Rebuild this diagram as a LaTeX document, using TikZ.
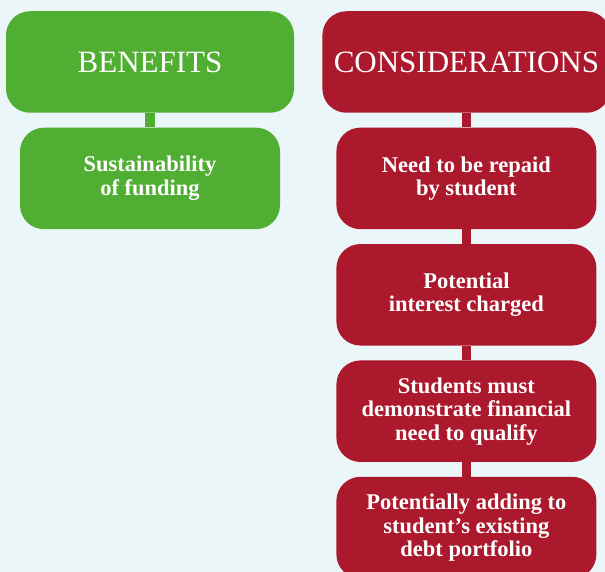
\documentclass[tikz,border=0pt]{standalone}
\usepackage{fontspec}
\setmainfont{Liberation Serif}
\usetikzlibrary{positioning}
\definecolor{benefitgreen}{RGB}{80,174,51}
\definecolor{considerred}{RGB}{172,24,44}
\definecolor{paleback}{RGB}{234,246,247}

\begin{document}
\begin{tikzpicture}
    % Styles
        \tikzstyle{heading} = [rectangle, rounded corners=24pt, text=white, text centered, minimum height=101.5pt, minimum width=288pt, font=\fontsize{31}{36}\selectfont]
        \tikzstyle{block} = [rectangle, rounded corners=24pt, text=white, align=center, minimum height=101.5pt, minimum width=260pt, font=\bfseries\fontsize{22.5}{23.5}\selectfont]
        \tikzstyle{line} = [draw, line width=9.5pt]
    % background
        \fill [paleback] (0,0) rectangle (605pt,-572pt);
        \useasboundingbox (0,0) rectangle (605pt,-572pt);
    % left column
        \node [heading, fill=benefitgreen] (benefits) at (150pt,-62pt) {BENEFITS};
        \node [block, fill=benefitgreen, below = 14.5pt of benefits] (sustainability) {Sustainability\\of funding};
    % right column
        \node [heading, fill=considerred, right = 28pt of benefits] (considerations) {CONSIDERATIONS};
        \node [block, fill=considerred, below = 14.5pt of considerations] (repaid) {Need to be repaid\\by student};
        \node [block, fill=considerred, below = 14.5pt of repaid] (interest) {Potential\\interest charged};
        \node [block, fill=considerred, below = 14.5pt of interest] (need) {Students must\\demonstrate financial\\need to qualify};
        \node [block, fill=considerred, below = 14.5pt of need] (debt) {Potentially adding to\\student’s existing\\debt portfolio};
    % Draw edges
        \path [line, benefitgreen] (benefits) -- (sustainability);
        \path [line, considerred] (considerations) -- (repaid);
        \path [line, considerred] (repaid) -- (interest);
        \path [line, considerred] (interest) -- (need);
        \path [line, considerred] (need) -- (debt);
\end{tikzpicture}
\end{document}
